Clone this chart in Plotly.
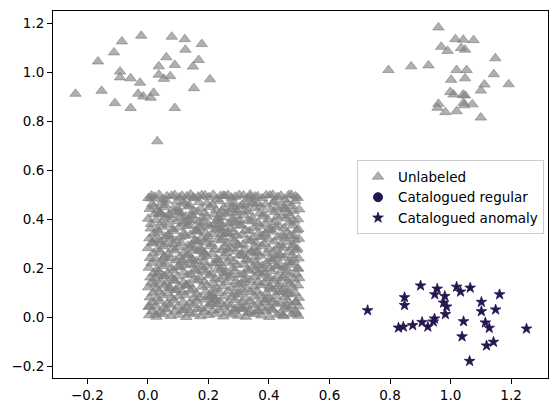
import plotly.graph_objects as go

# ---- Unlabeled: top-left cluster ----
tl_x = [-0.022, -0.086, 0.079, 0.122, 0.178, 0.124, -0.112, -0.165, 0.061, 0.036, 0.089, 0.168,
        0.149, -0.092, -0.092, -0.057, -0.026, 0.036, 0.053, 0.074, 0.205, -0.239, -0.153, -0.032,
        -0.015, 0.019, 0.009, 0.152, -0.109, -0.057, 0.089, 0.031]
tl_y = [1.148, 1.125, 1.144, 1.134, 1.114, 1.091, 1.080, 1.043, 1.060, 1.023, 1.029, 1.049,
        1.022, 1.002, 0.978, 0.974, 0.956, 0.989, 0.972, 0.983, 0.970, 0.911, 0.923, 0.911,
        0.900, 0.915, 0.895, 0.934, 0.873, 0.853, 0.853, 0.717]

# ---- Unlabeled: top-right cluster ----
tr_x = [0.960, 1.016, 1.042, 1.076, 0.969, 0.990, 1.035, 1.048, 1.148, 0.795, 0.870, 0.927,
        1.020, 1.053, 1.143, 1.002, 1.048, 1.112, 1.192, 1.100, 0.999, 1.010, 1.041, 1.048,
        0.960, 0.957, 1.043, 1.072, 0.983, 1.020, 1.100, 1.045]
tr_y = [1.182, 1.134, 1.132, 1.130, 1.103, 1.086, 1.098, 1.091, 1.056, 1.008, 1.023, 1.027,
        1.008, 1.008, 0.991, 0.968, 0.974, 0.949, 0.950, 0.924, 0.918, 0.908, 0.907, 0.904,
        0.870, 0.854, 0.874, 0.868, 0.836, 0.840, 0.814, 0.864]

# ---- Unlabeled: dense square (values in thousandths) ----
rect_rows_x = [
    "4 28 51 76 103 127 152 174 201 226 249 277 298 324 352 375 401 427 449 476 497",
    "15 39 62 89 114 138 165 187 214 236 263 286 313 338 361 389 412 439 463 488",
    "2 26 53 74 99 129 150 177 198 228 251 274 302 327 348 377 399 425 452 474 498",
    "13 41 64 86 116 137 162 189 211 239 261 289 309 336 364 386 414 436 461 489",
    "6 30 49 79 101 124 154 172 203 224 253 276 299 322 354 373 403 424 454 473 499",
    "17 37 66 91 113 141 160 191 216 234 265 284 314 341 359 391 411 441 459 486",
    "1 29 54 73 104 126 149 178 196 229 247 279 297 328 351 374 404 429 447 478 496",
    "11 42 61 87 117 135 166 186 217 238 259 291 308 339 363 384 416 434 464 484",
    "8 24 52 81 98 131 153 171 204 222 254 272 304 321 353 378 396 428 448 471 500",
    "19 36 67 84 118 142 159 193 209 241 258 287 316 333 366 383 409 443 457 491",
    "3 31 48 77 106 123 155 179 197 231 246 281 296 329 347 379 402 423 455 472 495",
    "12 43 59 92 111 143 161 184 218 233 264 283 317 334 358 392 408 437 466 482",
    "7 25 55 72 105 128 147 180 195 227 252 271 303 325 355 372 405 422 451 477 498",
    "18 40 68 90 119 134 167 185 212 242 257 292 310 342 360 393 415 435 465 490",
    "0 33 50 80 100 132 151 173 206 221 255 278 300 320 356 376 400 430 446 479 494",
    "16 44 60 93 110 144 157 192 210 243 260 285 315 340 357 385 417 440 458 485",
    "5 23 56 75 107 122 156 176 200 232 248 280 295 330 346 380 398 431 453 470 499",
    "20 35 69 85 120 140 164 190 215 240 266 282 312 335 367 387 410 444 460 492",
    "9 32 47 82 102 130 158 170 207 223 250 275 305 323 350 371 406 421 450 480 497",
    "10 45 65 94 115 136 168 183 219 235 267 290 307 343 365 390 418 433 467 483",
    "1 27 57 71 108 125 146 181 194 230 245 279 294 331 345 381 397 426 456 469 496",
    "21 39 70 95 109 145 163 188 220 244 256 293 318 332 369 382 419 442 463 481",
    "6 34 52 83 97 133 150 175 205 225 251 276 306 319 352 374 407 425 448 476 500",
    "14 46 58 96 121 138 169 195 213 237 268 284 313 344 362 389 414 445 461 487",
    "2 22 48 78 104 129 153 178 202 228 254 277 302 328 354 378 403 429 452 474 495",
    "12 37 63 89 113 141 166 189 216 240 265 289 316 338 363 391 413 440 465 488",
    # additional scattered points inside the square
    "37 212 455 98 330 171 402 265 20 488 144 359 233 66 301 419 187 5 276 442",
    "120 349 81 227 468 160 393 44 315 251 135 480 208 371 92 290 27 427 176 338",
    "56 247 461 113 384 199 14 322 267 150 496 72 409 238 357 129 31 283 446 192",
    "415 60 304 220 139 475 87 366 259 11 430 181 325 52 398 206 146 490 274 103",
    "341 24 458 166 380 236 118 311 437 70 249 483 155 296 40 362 214 125 404 288",
]
rect_rows_y = [
    "7 1 12 4 9 0 11 3 8 13 2 10 5 1 12 6 0 9 3 11 5",
    "24 19 31 22 28 17 33 21 26 30 18 25 32 20 27 23 29 16 31 24",
    "41 46 37 50 43 39 48 35 44 51 40 47 36 45 49 38 42 52 39 46 43",
    "59 64 55 68 61 57 66 71 58 63 54 69 60 65 56 70 62 58 67 61",
    "80 75 88 78 84 90 76 82 87 74 85 79 91 77 83 89 73 86 81 92 78",
    "99 104 96 110 101 107 94 103 111 98 106 95 109 100 105 97 112 102 108 99",
    "121 116 128 119 125 131 114 123 129 117 126 120 132 115 124 130 118 127 113 122 129",
    "140 146 137 151 142 135 149 144 138 152 141 147 136 150 143 139 148 134 145 153",
    "161 156 168 159 165 171 154 163 169 157 166 160 172 155 164 170 158 167 162 173 159",
    "179 185 176 190 182 174 188 183 177 191 180 186 175 189 181 178 187 192 184 176",
    "201 196 208 199 205 211 194 203 209 197 206 200 212 195 204 210 198 207 202 213 199",
    "220 226 217 231 222 215 229 224 218 232 221 227 216 230 223 219 228 214 225 233",
    "241 236 248 239 245 251 234 243 249 237 246 240 252 235 244 250 238 247 242 253 239",
    "260 266 257 271 262 255 269 264 258 272 261 267 256 270 263 259 268 254 265 273",
    "281 276 288 279 285 291 274 283 289 277 286 280 292 275 284 290 278 287 282 293 279",
    "300 306 297 311 302 295 309 304 298 312 301 307 296 310 303 299 308 294 305 313",
    "321 316 328 319 325 331 314 323 329 317 326 320 332 315 324 330 318 327 322 333 319",
    "340 346 337 351 342 335 349 344 338 352 341 347 336 350 343 339 348 334 345 353",
    "361 356 368 359 365 371 354 363 369 357 366 360 372 355 364 370 358 367 362 373 359",
    "380 386 377 391 382 375 389 384 378 392 381 387 376 390 383 379 388 374 385 393",
    "401 396 408 399 405 411 394 403 409 397 406 400 412 395 404 410 398 407 402 413 399",
    "420 426 417 431 422 415 429 424 418 432 421 427 416 430 423 419 428 414 425 433",
    "441 436 448 439 445 451 434 443 449 437 446 440 452 435 444 450 438 447 442 453 439",
    "460 466 457 471 462 455 469 464 458 472 461 467 456 470 463 459 468 454 465 473",
    "486 491 482 495 488 493 484 497 489 481 494 487 498 483 492 485 496 490 480 499 486",
    "496 499 493 498 495 500 492 497 499 494 498 491 496 500 493 497 499 495 498 492",
    "312 88 441 203 17 369 125 276 452 61 239 190 407 331 102 473 258 44 385 157",
    "29 464 298 221 136 350 74 419 249 182 398 286 53 326 111 438 11 207 271 490",
    "166 343 95 232 59 377 305 142 426 488 197 416 34 362 264 128 174 451 7 317",
    "237 475 393 69 283 222 147 24 339 484 101 192 459 243 355 81 413 15 172 428",
    "262 133 47 307 195 379 469 39 252 118 495 329 214 297 423 211 84 389 157 32",
]
rect_x = [int(v) / 1000 for row in rect_rows_x for v in row.split()]
rect_y = [int(v) / 1000 for row in rect_rows_y for v in row.split()]

unl_x = tl_x + tr_x + rect_x
unl_y = tl_y + tr_y + rect_y

# ---- Catalogued anomaly ----
an_x = [0.726, 0.828, 0.844, 0.875, 0.848, 0.848, 0.901, 0.906, 0.925, 0.947, 0.943, 0.956,
        0.948, 0.981, 0.977, 0.987, 0.983, 1.020, 1.033, 1.065, 1.043, 1.038, 1.063, 1.102,
        1.102, 1.149, 1.162, 1.115, 1.128, 1.119, 1.142, 1.251]
an_y = [0.027, -0.044, -0.040, -0.034, 0.080, 0.048, 0.128, -0.021, -0.040, -0.007, -0.019, 0.115,
        0.092, 0.085, 0.058, 0.042, 0.011, 0.123, 0.103, 0.119, -0.018, -0.080, -0.180, 0.061,
        0.023, 0.030, 0.092, -0.023, -0.045, -0.117, -0.102, -0.048]

# ---- Catalogued regular (no points shown) ----
reg_x = [None]
reg_y = [None]

x_ticks = [-0.2, 0.0, 0.2, 0.4, 0.6, 0.8, 1.0, 1.2]
y_ticks = [-0.2, 0.0, 0.2, 0.4, 0.6, 0.8, 1.0, 1.2]

DARK = "#261650"
GRAY_A = "rgba(128,128,128,0.62)"

fig = go.Figure()
fig.add_trace(go.Scatter(
    x=unl_x, y=unl_y, mode="markers", name="Unlabeled",
    marker=dict(symbol="triangle-up", size=10, color=GRAY_A,
                line=dict(color=GRAY_A, width=1)),
))
fig.add_trace(go.Scatter(
    x=reg_x, y=reg_y, mode="markers", name="Catalogued regular",
    marker=dict(symbol="circle", size=9, color=DARK, line=dict(color=DARK, width=1)),
))
fig.add_trace(go.Scatter(
    x=an_x, y=an_y, mode="markers", name="Catalogued anomaly",
    marker=dict(symbol="star", size=8, color=DARK, line=dict(color=DARK, width=0.8)),
))

axis_common = dict(
    showline=True, mirror=True, linecolor="black", linewidth=1,
    ticks="outside", ticklen=5, tickwidth=1, tickcolor="black",
    showgrid=False, zeroline=False, tickformat=".1f",
    tickfont=dict(family="DejaVu Sans", size=13.5, color="black"),
)
fig.update_xaxes(range=[-0.3135, 1.322], tickvals=x_ticks, **axis_common)
fig.update_yaxes(range=[-0.249, 1.249], tickvals=y_ticks, **axis_common)

fig.update_layout(
    width=559, height=413,
    margin=dict(l=53, r=10, t=10, b=34),
    plot_bgcolor="white", paper_bgcolor="white",
    font=dict(family="DejaVu Sans", size=13.5, color="black"),
    legend=dict(
        x=0.992, y=0.593, xanchor="right", yanchor="top",
        bgcolor="rgba(255,255,255,0.8)", bordercolor="#cccccc", borderwidth=1,
        font=dict(family="DejaVu Sans", size=13.5, color="black"),
    ),
)

fig.write_html("out.html")
